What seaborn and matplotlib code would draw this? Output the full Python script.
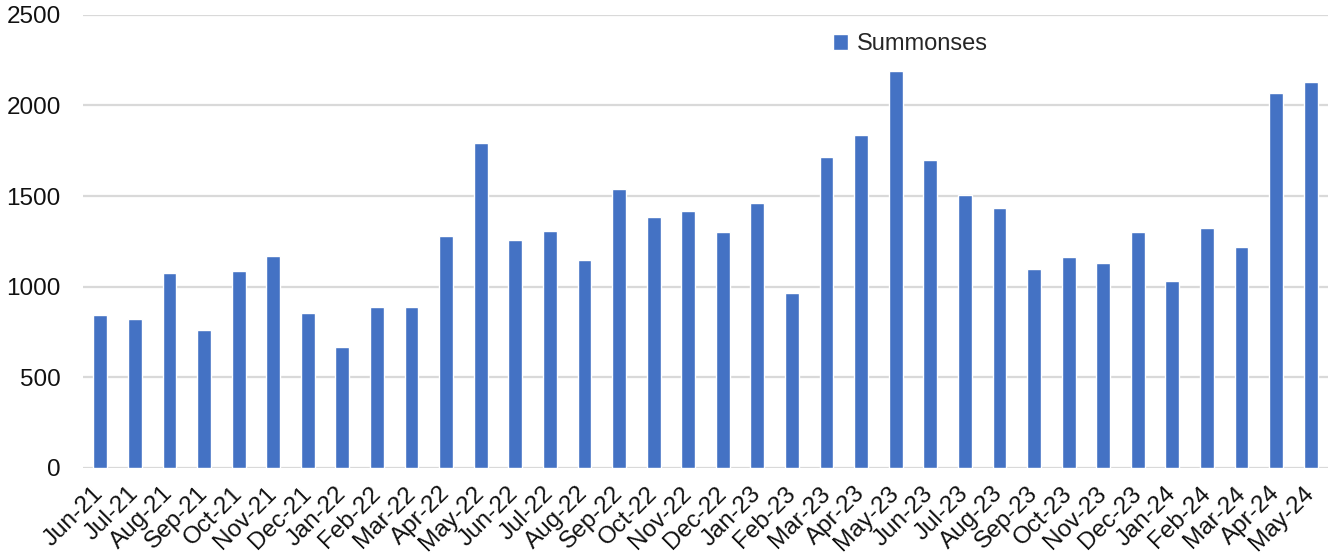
import matplotlib
matplotlib.use("Agg")
import matplotlib.pyplot as plt
import seaborn as sns
import pandas as pd

months = ["Jun-21", "Jul-21", "Aug-21", "Sep-21", "Oct-21", "Nov-21", "Dec-21",
          "Jan-22", "Feb-22", "Mar-22", "Apr-22", "May-22", "Jun-22", "Jul-22",
          "Aug-22", "Sep-22", "Oct-22", "Nov-22", "Dec-22", "Jan-23", "Feb-23",
          "Mar-23", "Apr-23", "May-23", "Jun-23", "Jul-23", "Aug-23", "Sep-23",
          "Oct-23", "Nov-23", "Dec-23", "Jan-24", "Feb-24", "Mar-24", "Apr-24",
          "May-24"]
summonses = [846, 824, 1077, 763, 1088, 1171, 857,
             669, 890, 890, 1281, 1794, 1259, 1309,
             1149, 1540, 1386, 1419, 1303, 1463, 967,
             1717, 1838, 2191, 1700, 1507, 1436, 1099,
             1165, 1132, 1303, 1033, 1325, 1221, 2070,
             2130]
series_name = "Summonses"
yticks = [0, 500, 1000, 1500, 2000, 2500]

df = pd.DataFrame({"Month": months, "Value": summonses, "Series": series_name})

sns.set_theme(style="white")
plt.rcParams["font.family"] = ["Liberation Sans", "DejaVu Sans"]

fig = plt.figure(figsize=(13.3, 5.56), dpi=100)
ax = fig.add_axes([83 / 1330, 88 / 556, 1245 / 1330, (468 - 14.7) / 556])

sns.barplot(data=df, x="Month", y="Value", hue="Series", palette=["#4472C4"],
            width=0.4, ax=ax, legend=True, saturation=1)

ax.set_ylim(0, 2500)
ax.set_xlim(-0.5, len(months) - 0.5)
ax.set_yticks(yticks)
ax.set_yticklabels([str(v) for v in yticks], fontsize=17.5, color="#111111")
ax.yaxis.grid(True, color="#d9d9d9", linewidth=1.6)
ax.set_axisbelow(True)
for s in ax.spines.values():
    s.set_visible(False)
ax.tick_params(axis="y", length=0, pad=16)
ax.tick_params(axis="x", length=0, pad=16)
ax.set_xlabel("")
ax.set_ylabel("")
ax.set_xticks(range(len(months)))
ax.set_xticklabels(months, rotation=45, ha="right", va="center",
                   rotation_mode="anchor", fontsize=17.5, color="#111111")

leg = ax.legend(loc="center left", bbox_to_anchor=(833 / 1330, 1 - 44 / 556),
                bbox_transform=fig.transFigure, frameon=False, fontsize=17,
                handlelength=0.65, handleheight=0.65, handletextpad=0.35,
                borderpad=0, borderaxespad=0)

fig.savefig("out.png", dpi=100)
